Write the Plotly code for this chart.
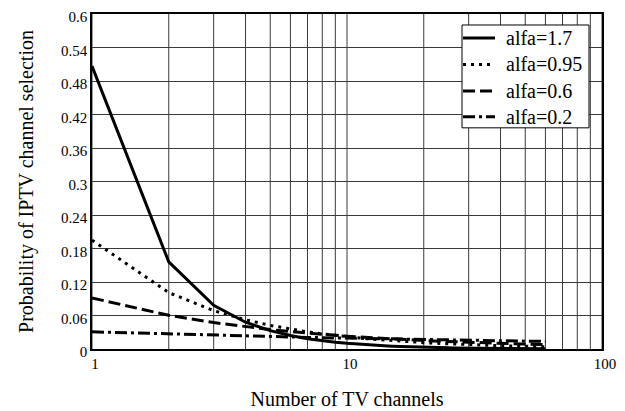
import plotly.graph_objects as go

channels = [1, 2, 3, 4, 5, 6, 7, 8, 9, 10,
            11, 12, 13, 14, 15, 16, 17, 18, 19, 20,
            21, 22, 23, 24, 25, 26, 27, 28, 29, 30,
            31, 32, 33, 34, 35, 36, 37, 38, 39, 40,
            41, 42, 43, 44, 45, 46, 47, 48, 49, 50,
            51, 52, 53, 54, 55, 56, 57, 58, 59, 60]

p_alfa_1_7 = [0.5067, 0.1560, 0.0783, 0.0480, 0.0329, 0.0241, 0.0185, 0.01477, 0.01209, 0.01011,
              0.00860, 0.00742, 0.00647, 0.00571, 0.00507, 0.00455, 0.00411, 0.00372, 0.00340, 0.00311,
              0.00286, 0.00265, 0.00245, 0.00228, 0.00213, 0.00199, 0.00187, 0.00176, 0.00165, 0.00156,
              0.00148, 0.00140, 0.00133, 0.00126, 0.00120, 0.00115, 0.00110, 0.00105, 0.00100, 0.000958,
              0.000918, 0.000881, 0.000847, 0.000814, 0.000784, 0.000755, 0.000728, 0.000702, 0.000678, 0.000655,
              0.000634, 0.000613, 0.000594, 0.000575, 0.000557, 0.000540, 0.000524, 0.000509, 0.000494, 0.000481]

p_alfa_0_95 = [0.1950, 0.1010, 0.0687, 0.0523, 0.0423, 0.0355, 0.0307, 0.0270, 0.0242, 0.0219,
               0.0200, 0.0184, 0.01705, 0.01589, 0.01488, 0.01400, 0.01322, 0.01252, 0.01189, 0.01133,
               0.01082, 0.01035, 0.00992, 0.00953, 0.00916, 0.00883, 0.00852, 0.00823, 0.00796, 0.00771,
               0.00747, 0.00725, 0.00704, 0.00684, 0.00666, 0.00648, 0.00631, 0.00616, 0.00601, 0.00586,
               0.00573, 0.00560, 0.00548, 0.00536, 0.00524, 0.00514, 0.00503, 0.00493, 0.00484, 0.00475,
               0.00466, 0.00457, 0.00449, 0.00441, 0.00434, 0.00426, 0.00419, 0.00412, 0.00406, 0.00399]

p_alfa_0_6 = [0.0913, 0.0603, 0.0473, 0.0397, 0.0348, 0.0312, 0.0284, 0.0262, 0.0244, 0.0229,
              0.0217, 0.0206, 0.0196, 0.01875, 0.01799, 0.01730, 0.01668, 0.01612, 0.01561, 0.01514,
              0.01470, 0.01430, 0.01392, 0.01357, 0.01324, 0.01293, 0.01264, 0.01237, 0.01211, 0.01187,
              0.01164, 0.01142, 0.01121, 0.01101, 0.01082, 0.01064, 0.01047, 0.01030, 0.01014, 0.00999,
              0.00984, 0.00970, 0.00956, 0.00943, 0.00930, 0.00918, 0.00906, 0.00895, 0.00884, 0.00873,
              0.00863, 0.00853, 0.00843, 0.00833, 0.00824, 0.00815, 0.00806, 0.00798, 0.00790, 0.00782]

p_alfa_0_2 = [0.03072, 0.02674, 0.02466, 0.02328, 0.02227, 0.02147, 0.02082, 0.02027, 0.01980, 0.01938,
              0.01902, 0.01869, 0.01839, 0.01812, 0.01787, 0.01764, 0.01743, 0.01723, 0.01705, 0.01687,
              0.01671, 0.01656, 0.01641, 0.01627, 0.01614, 0.01601, 0.01589, 0.01578, 0.01567, 0.01556,
              0.01546, 0.01536, 0.01527, 0.01517, 0.01509, 0.01500, 0.01492, 0.01484, 0.01476, 0.01469,
              0.01462, 0.01455, 0.01448, 0.01441, 0.01435, 0.01428, 0.01422, 0.01416, 0.01411, 0.01405,
              0.01399, 0.01394, 0.01389, 0.01383, 0.01378, 0.01373, 0.01368, 0.01364, 0.01359, 0.01355]

series_names = ["alfa=1.7", "alfa=0.95", "alfa=0.6", "alfa=0.2"]
series_values = [p_alfa_1_7, p_alfa_0_95, p_alfa_0_6, p_alfa_0_2]
dash_styles = ["solid", "3px,5px", "12px,5px", "12px,4px,3px,4px"]

y_tick_values = [0, 0.06, 0.12, 0.18, 0.24, 0.3, 0.36, 0.42, 0.48, 0.54, 0.6]
y_tick_labels = ["0", "0.06", "0.12", "0.18", "0.24", "0.3", "0.36", "0.42", "0.48", "0.54", "0.6"]
x_grid_values = [1, 2, 3, 4, 5, 6, 7, 8, 9, 10, 20, 30, 40, 50, 60, 70, 80, 90, 100]
x_tick_values = [1, 10, 100]
x_tick_labels = ["1", "10", "100"]

FONT = "Liberation Serif"

fig = go.Figure()
for name, vals, dash in zip(series_names, series_values, dash_styles):
    fig.add_trace(go.Scatter(
        x=channels, y=vals, mode="lines", name=name, showlegend=False,
        line=dict(color="black", width=3, dash=dash),
    ))

grid_col = "#3a3a3a"
# page body has an 8px default margin, so the figure is 8px smaller and margins shifted
fig.update_layout(
    width=617, height=403,
    margin=dict(l=84, r=23, t=6, b=62, autoexpand=False),
    paper_bgcolor="white", plot_bgcolor="white",
    font=dict(family=FONT, color="black", size=15),
    showlegend=False,
    xaxis=dict(
        type="log", range=[0, 2], automargin=False,
        tickvals=x_tick_values, ticktext=x_tick_labels,
        showgrid=False, zeroline=False,
        showline=True, linecolor="black", linewidth=1.5, mirror=True,
        ticks="", ticklabelshift=3, ticklabeloverflow="allow",
        tickfont=dict(family=FONT, size=15, color="black"),
        title=dict(text="Number of TV channels", font=dict(family=FONT, size=20, color="black"), standoff=21),
    ),
    yaxis=dict(
        range=[0, 0.6], automargin=False,
        tickvals=y_tick_values, ticktext=y_tick_labels,
        showgrid=True, gridcolor=grid_col, gridwidth=1,
        zeroline=False,
        showline=True, linecolor="black", linewidth=1.5, mirror=True,
        ticks="", ticklabelshift=3, ticklabeloverflow="allow",
        tickfont=dict(family=FONT, size=15, color="black"),
        title=dict(text="Probability of IPTV channel selection", font=dict(family=FONT, size=20, color="black"), standoff=22),
    ),
)

for gv in x_grid_values:
    fig.add_shape(type="line", xref="x", yref="paper", x0=gv, x1=gv, y0=0, y1=1,
                  line=dict(color=grid_col, width=1), layer="below")

# legend box drawn in paper coordinates
fig.add_shape(type="rect", xref="paper", yref="paper", x0=0.7255, x1=0.9745, y0=0.6602, y1=0.9672,
              line=dict(color="black", width=1), fillcolor="white", layer="above")
row_y = [0.9285, 0.8495, 0.7705, 0.6930]
for name, dash, ry in zip(series_names, dash_styles, row_y):
    fig.add_shape(type="line", xref="paper", yref="paper", x0=0.7275, x1=0.7902, y0=ry, y1=ry,
                  line=dict(color="black", width=3, dash=dash), layer="above")
    fig.add_annotation(text=name, xref="paper", yref="paper", x=0.8078, y=ry,
                       xanchor="left", yanchor="middle", showarrow=False,
                       font=dict(family=FONT, size=20, color="black"))

fig.write_html("out.html")
